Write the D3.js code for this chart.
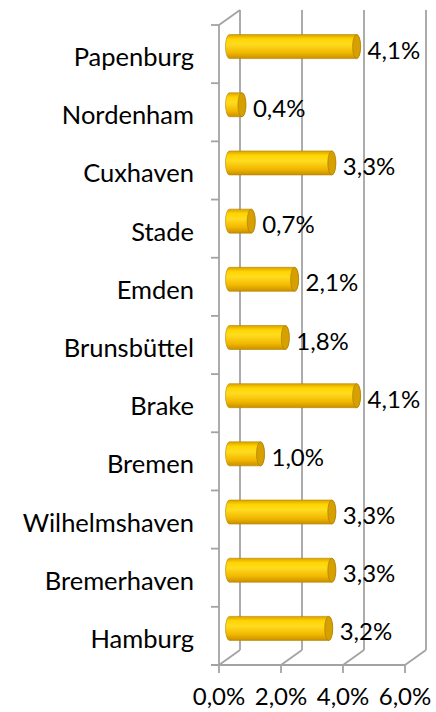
<!DOCTYPE html>
<html lang="de">
<head>
	<meta charset="UTF-8">
	<title>Häfen</title>
	<style>
		body { margin: 0; background: #fff; }
		text { font-family: Lato, "Open Sans", sans-serif; fill: #000; }
	</style>
</head>
<body>
<script src="https://cdn.jsdelivr.net/npm/d3@7/dist/d3.min.js"></script>
<script>
	var ports = ["Papenburg", "Nordenham", "Cuxhaven", "Stade", "Emden", "Brunsbüttel", "Brake", "Bremen", "Wilhelmshaven", "Bremerhaven", "Hamburg"];
	var shares = [4.1, 0.4, 3.3, 0.7, 2.1, 1.8, 4.1, 1.0, 3.3, 3.3, 3.2];
	var ticks = [0, 2, 4, 6];

	var width = 436, height = 712;
	var depthX = 21, depthY = -15;
	var fmt = v => v.toFixed(1).replace(".", ",") + "%";
	var grid = "#a3a3a3";

	var svg = d3.select("body").append("svg")
		.attr("width", width)
		.attr("height", height);

	var x = d3.scaleLinear().domain([0, 6]).range([219, 405]);
	var y = d3.scaleBand().domain(ports).range([25, 665]);

	var defs = svg.append("defs");
	var body = defs.append("linearGradient")
		.attr("id", "cyl").attr("x1", 0).attr("x2", 0).attr("y1", 0).attr("y2", 1);
	body.append("stop").attr("offset", "0%").attr("stop-color", "#d9a200");
	body.append("stop").attr("offset", "18%").attr("stop-color", "#ffd400");
	body.append("stop").attr("offset", "40%").attr("stop-color", "#ffdc20");
	body.append("stop").attr("offset", "75%").attr("stop-color", "#f2b800");
	body.append("stop").attr("offset", "100%").attr("stop-color", "#c98f00");

	// walls and floor
	var walls = svg.append("g")
		.attr("fill", "none")
		.attr("stroke", grid)
		.attr("stroke-width", 1.8);

	walls.selectAll(".back")
		.data(ticks)
		.join("line")
		.attr("x1", d => x(d) + depthX).attr("x2", d => x(d) + depthX)
		.attr("y1", y.range()[0] + depthY).attr("y2", y.range()[1] + depthY);

	walls.selectAll(".floor")
		.data(ticks)
		.join("line")
		.attr("x1", d => x(d)).attr("x2", d => x(d) + depthX)
		.attr("y1", y.range()[1]).attr("y2", y.range()[1] + depthY);

	walls.append("line")
		.attr("x1", x(0)).attr("x2", x(0) + depthX)
		.attr("y1", y.range()[0]).attr("y2", y.range()[0] + depthY);

	// front axes
	walls.append("line")
		.attr("x1", x(0)).attr("x2", x(0))
		.attr("y1", y.range()[0]).attr("y2", y.range()[1]);
	walls.append("line")
		.attr("x1", x(0) - 8).attr("x2", x(6))
		.attr("y1", y.range()[1]).attr("y2", y.range()[1]);

	var bounds = ports.map(p => y(p)).concat([y.range()[1]]);
	walls.selectAll(".ytick")
		.data(bounds)
		.join("line")
		.attr("x1", x(0) - 8).attr("x2", x(0))
		.attr("y1", d => d).attr("y2", d => d);

	walls.selectAll(".xtick")
		.data(ticks)
		.join("line")
		.attr("x1", d => x(d)).attr("x2", d => x(d))
		.attr("y1", y.range()[1]).attr("y2", y.range()[1] + 8);

	// cylinders
	var bh = 24, rx = 4;
	var bars = svg.append("g")
		.selectAll("g")
		.data(ports)
		.join("g")
		.attr("transform", p => `translate(0,${y(p) + y.bandwidth() / 2 + depthY / 2})`);

	bars.append("path")
		.attr("fill", "url(#cyl)")
		.attr("stroke", "#b58400")
		.attr("stroke-width", 0.6)
		.attr("d", (p, i) => {
			var x0 = x(0) + depthX / 2, x1 = x(shares[i]) + depthX / 2;
			return `M${x0},${-bh / 2} L${x1},${-bh / 2} A${rx},${bh / 2} 0 0 1 ${x1},${bh / 2}` +
				` L${x0},${bh / 2} A${rx},${bh / 2} 0 0 1 ${x0},${-bh / 2} Z`;
		});

	bars.append("ellipse")
		.attr("cx", (p, i) => x(shares[i]) + depthX / 2)
		.attr("cy", 0)
		.attr("rx", rx)
		.attr("ry", bh / 2)
		.attr("fill", "#d6a000")
		.attr("stroke", "#a87a00")
		.attr("stroke-width", 0.6);

	bars.append("text")
		.attr("x", (p, i) => x(shares[i]) + depthX / 2 + rx + 7)
		.attr("y", 12)
		.attr("font-size", 24)
		.text((p, i) => fmt(shares[i]));

	// labels
	svg.append("g")
		.selectAll("text")
		.data(ports)
		.join("text")
		.attr("x", 194)
		.attr("y", p => y(p) + y.bandwidth() / 2 + 12)
		.attr("text-anchor", "end")
		.attr("font-size", 25.5)
		.text(p => p);

	svg.append("g")
		.selectAll("text")
		.data(ticks)
		.join("text")
		.attr("x", d => x(d))
		.attr("y", 705)
		.attr("text-anchor", "middle")
		.attr("font-size", 24)
		.text(d => fmt(d));
</script>
</body>
</html>
